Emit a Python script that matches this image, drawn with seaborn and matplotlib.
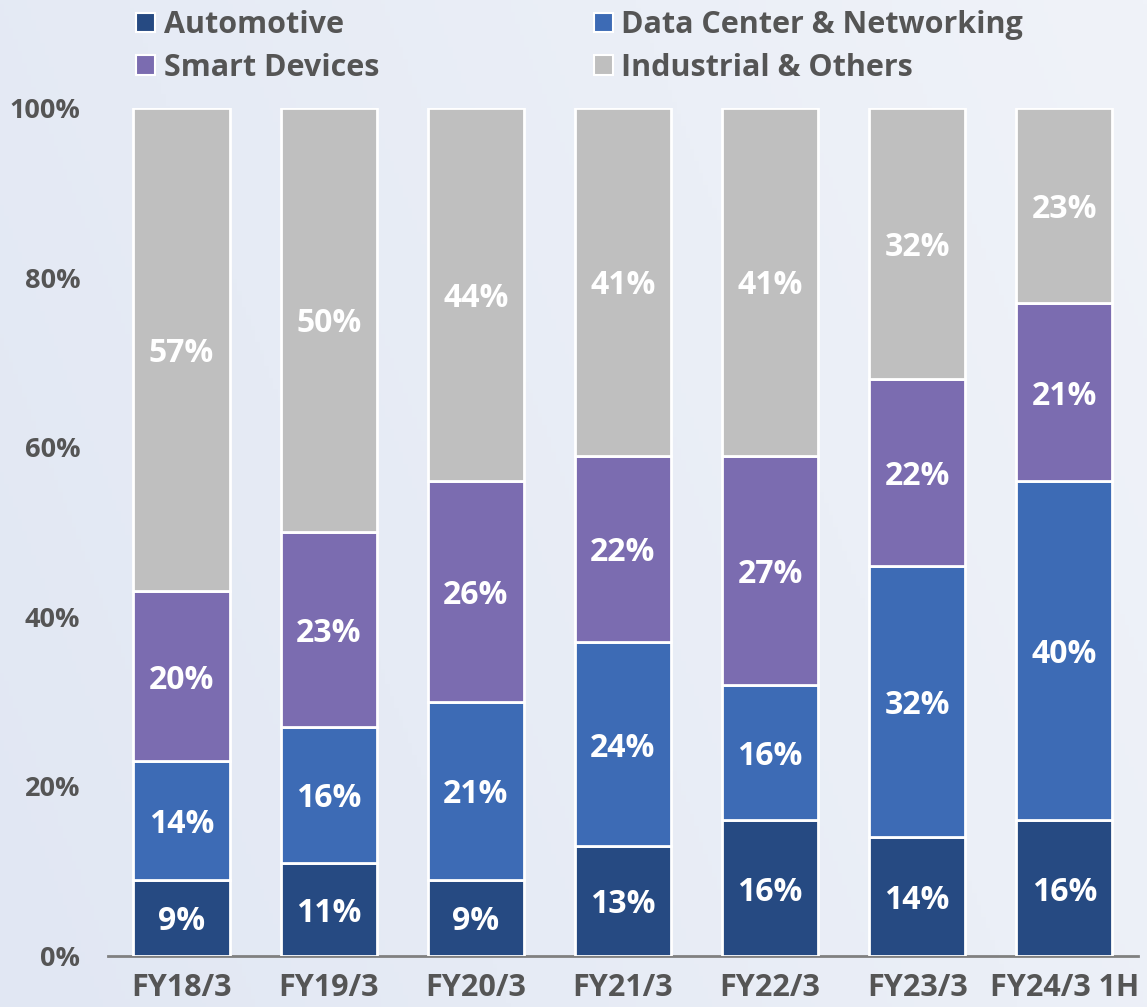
import numpy as np
import pandas as pd
import matplotlib
matplotlib.use("Agg")
import matplotlib.pyplot as plt
from matplotlib.patches import Patch
import seaborn as sns

categories = ["FY18/3", "FY19/3", "FY20/3", "FY21/3", "FY22/3", "FY23/3", "FY24/3 1H"]
automotive = [9, 11, 9, 13, 16, 14, 16]
data_center = [14, 16, 21, 24, 16, 32, 40]
smart_devices = [20, 23, 26, 22, 27, 22, 21]
industrial = [57, 50, 44, 41, 41, 32, 23]
series_names = ["Automotive", "Data Center & Networking", "Smart Devices", "Industrial & Others"]
y_ticks = [0, 20, 40, 60, 80, 100]
y_tick_labels = ["0%", "20%", "40%", "60%", "80%", "100%"]

colors = ["#264a82", "#3d6bb5", "#7b6cb0", "#bfbfbf"]
text_grey = "#555555"

sns.set_theme(style="white")
plt.rcParams["font.family"] = ["Open Sans", "DejaVu Sans"]

fig = plt.figure(figsize=(11.47, 10.07), dpi=100)

# background gradient
bg = fig.add_axes([0, 0, 1, 1], zorder=-10)
gx = np.linspace(0, 1, 256)
gy = np.linspace(0, 1, 256)
GX, GY = np.meshgrid(gx, gy)
t = np.clip(0.75 * GX + 0.25 * (1 - GY), 0, 1)
c0 = np.array([225, 231, 243]) / 255
c1 = np.array([240, 243, 249]) / 255
img = c0[None, None, :] * (1 - t[..., None]) + c1[None, None, :] * t[..., None]
bg.imshow(img, aspect="auto", extent=[0, 1, 0, 1], origin="upper")
bg.set_axis_off()

ax = fig.add_axes([0.0942, 0.0506, 0.8978, 0.8422])
ax.patch.set_alpha(0)

series = [automotive, data_center, smart_devices, industrial]
bottom = np.zeros(len(categories))
for name, vals, col in zip(series_names, series, colors):
    vals = np.array(vals, dtype=float)
    sns.barplot(x=categories, y=vals, bottom=bottom, color=col, saturation=1,
                width=0.655, edgecolor="white", linewidth=2, ax=ax, zorder=3)
    for i, v in enumerate(vals):
        ax.text(i, bottom[i] + v / 2, f"{int(v)}%", ha="center", va="center_baseline",
                color="white", fontsize=23, fontweight="bold", zorder=5)
    bottom = bottom + vals

ax.set_ylim(0, 100)
ax.set_xlim(-0.5, len(categories) - 0.5)
ax.set_yticks(y_ticks)
ax.set_yticklabels(y_tick_labels)
for s in ["top", "right", "left"]:
    ax.spines[s].set_visible(False)
ax.spines["bottom"].set_color("#808080")
ax.spines["bottom"].set_linewidth(2)
ax.tick_params(axis="y", length=0, labelsize=19.5, labelcolor=text_grey, pad=20)
ax.tick_params(axis="x", length=0, labelsize=22, labelcolor=text_grey, pad=12)
for lab in ax.get_xticklabels() + ax.get_yticklabels():
    lab.set_fontweight("bold")
ax.set_xlabel("")
ax.set_ylabel("")

handles = [Patch(facecolor=c, edgecolor="white", linewidth=1.5) for c in colors]
leg = fig.legend([handles[i] for i in [0, 2, 1, 3]], [series_names[i] for i in [0, 2, 1, 3]],
                 ncol=2, loc="upper left", bbox_to_anchor=(0.103, 1.008), frameon=False,
                 fontsize=22, handlelength=0.62, handleheight=0.62, handletextpad=0.28,
                 columnspacing=7.02, labelspacing=0.42, borderpad=0.1)
for txt in leg.get_texts():
    txt.set_color(text_grey)
    txt.set_fontweight("bold")

fig.savefig("out.png", dpi=100)
